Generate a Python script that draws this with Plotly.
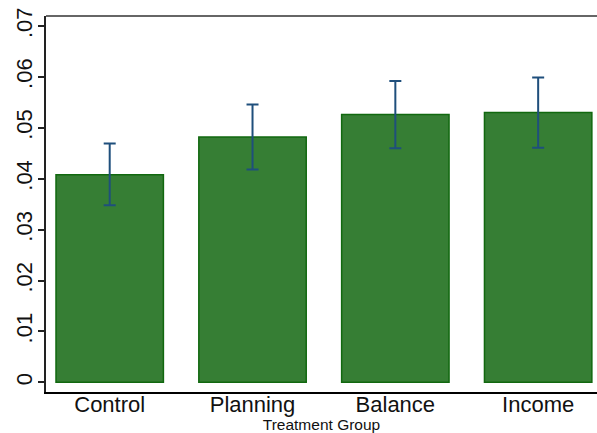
import plotly.graph_objects as go

# Mean share by treatment arm with 95% confidence bounds
groups = ["Control", "Planning", "Balance", "Income"]
means = [0.0408, 0.0482, 0.0526, 0.0530]
upper = [0.0469, 0.0546, 0.0592, 0.0599]
lower = [0.0348, 0.0418, 0.0460, 0.0461]

y_ticks = [0, 0.01, 0.02, 0.03, 0.04, 0.05, 0.06, 0.07]
y_tick_text = ["0", ".01", ".02", ".03", ".04", ".05", ".06", ".07"]

err_plus = [u - m for u, m in zip(upper, means)]
err_minus = [m - l for m, l in zip(means, lower)]

FONT = "Liberation Sans, Arial, Helvetica, sans-serif"

fig = go.Figure()
fig.add_trace(go.Bar(
    x=groups,
    y=means,
    width=0.752,
    marker=dict(color="#367e34", line=dict(color="#11680f", width=1.5)),
    error_y=dict(
        type="data",
        symmetric=False,
        array=err_plus,
        arrayminus=err_minus,
        color="#1f4f7c",
        thickness=2,
        width=6,
    ),
    hoverinfo="skip",
))

fig.update_layout(
    width=597,
    height=433,
    margin=dict(l=46, r=0, t=16, b=41),
    paper_bgcolor="white",
    plot_bgcolor="white",
    showlegend=False,
    font=dict(family=FONT, color="black"),
    xaxis=dict(
        type="category",
        range=[-0.446, 3.412],
        showline=True,
        linecolor="black",
        linewidth=1.5,
        ticks="",
        showgrid=False,
        zeroline=False,
        ticklabelstandoff=-8,
        tickfont=dict(size=22, color="#111"),
        title=dict(text="Treatment Group", font=dict(size=15.5, color="#111"), standoff=0),
    ),
    yaxis=dict(
        range=[-0.0019, 0.07197],
        tickvals=y_ticks,
        ticktext=y_tick_text,
        tickangle=-90,
        showline=True,
        linecolor="#222",
        linewidth=1.8,
        ticks="outside",
        ticklen=6,
        tickwidth=1.5,
        tickcolor="#222",
        ticklabelstandoff=-3,
        showgrid=False,
        zeroline=False,
        tickfont=dict(size=22, color="#111"),
    ),
    shapes=[dict(
        type="line", xref="paper", yref="paper",
        x0=0, x1=1, y0=1, y1=1,
        line=dict(color="#666", width=1.8),
    )],
)

fig.write_html("out.html")
